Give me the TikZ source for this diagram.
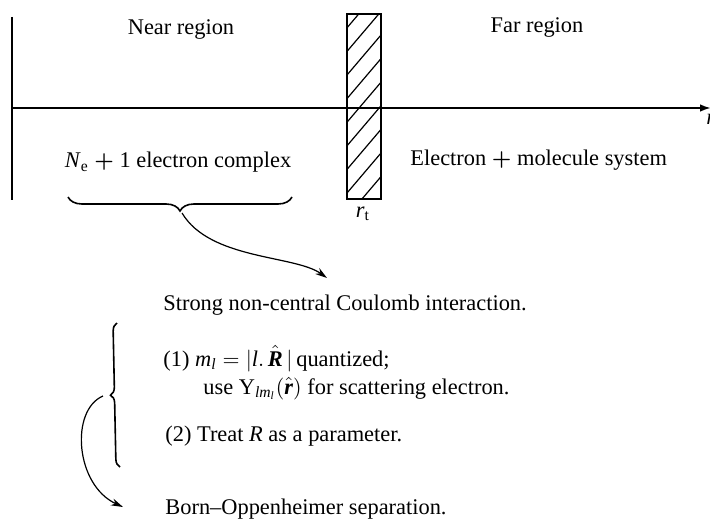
\documentclass[tikz,border=0pt]{standalone}
\usepackage{amsmath}
\usepackage{fontspec}
\setmainfont{Liberation Serif}
\usetikzlibrary{arrows.meta,decorations.pathreplacing}
\newcommand{\iti}[1]{\textit{#1}}
\newcommand{\bit}[1]{\textbf{\textit{#1}}}
\begin{document}
\begin{tikzpicture}[x=0.5pt,y=-0.5pt,
  txt/.style={font=\fontsize{11.2}{13}\selectfont, inner sep=0pt},
  heavy/.style={line width=1pt},
  bracestyle/.style={line width=0.8pt, decorate, decoration={brace, amplitude=#1}},
  curvearrow/.style={line width=0.6pt, -{Stealth[length=6pt,width=3.6pt]}},
  axisarrow/.style={line width=1pt, -{Latex[length=5.5pt,width=3.8pt]}},
  barrier/.style={draw, line width=0.75pt, minimum width=17pt, minimum height=92.5pt, inner sep=0pt},
  hatch/.style={line width=0.6pt}
]
\useasboundingbox (0,0) rectangle (710,518);

% axis and left wall
\coordinate (w0) at (12,17);
\coordinate (w1) at (12,200);
\coordinate (ax0) at (12,108);
\coordinate (ax1) at (711,108);
\draw[heavy] (w0) -- (w1);
\draw[axisarrow] (ax0) -- (ax1);
\node[txt, anchor=west] (r) at (706,119) {\iti{r}};

% barrier
\node[barrier] (bar) at (364,106.5) {};
\begin{scope}
  \clip (bar.north west) rectangle (bar.south east);
  \foreach \k in {-2,...,9} {
    \draw[hatch] (347,35+23.6*\k+40) -- (381,35+23.6*\k);
  }
\end{scope}
\node[txt] (rt) at (363,214) {\iti{r}$_{\mathrm{t}}$};

% region labels
\node[txt, anchor=base] (near) at (181,35) {Near region};
\node[txt, anchor=base] (far) at (537,33) {Far region};
\node[txt, anchor=base] (ne) at (178,168) {\iti{N}$_{\mathrm{e}}$ $\boldsymbol{+}$ 1 electron complex};
\node[txt, anchor=base west] (em) at (410,166) {Electron $\boldsymbol{+}$ molecule system};

% upper brace and arrow
\coordinate (b1a) at (292,197);
\coordinate (b1b) at (68,197);
\draw[bracestyle=7pt] (b1a) -- (b1b);
\coordinate (b1tip) at (182,213);
\coordinate (a1end) at (327,278);
\draw[curvearrow] (b1tip) .. controls (210,260) and (295,255) .. (a1end);

% lower texts
\node[txt, anchor=base west] (strong) at (163,310) {Strong non-central Coulomb interaction.};
\node[txt, anchor=base west] (one) at (163,366) {(1) $\iti{m}_{\iti{l}}=|\iti{l}.\,\hat{\bit{R}}\,|$\,quantized;};
\node[txt, anchor=base west] (use) at (203,394) {use $\mathrm{Y}_{\iti{l}\iti{m}_{\iti{l}}}(\hat{\bit{r}})$ for scattering electron.};
\node[txt, anchor=base west] (two) at (165,441) {(2) Treat \iti{R} as a parameter.};
\node[txt, anchor=base west] (born) at (165,514) {Born--Oppenheimer separation.};

% lower brace and arrow
\coordinate (b2a) at (120,467);
\coordinate (b2b) at (117,323);
\draw[bracestyle=4pt] (b2a) -- (b2b);
\coordinate (b2tip) at (103,396);
\coordinate (a2end) at (123,507);
\draw[curvearrow] (b2tip) .. controls (70,410) and (75,485) .. (a2end);
\end{tikzpicture}
\end{document}
